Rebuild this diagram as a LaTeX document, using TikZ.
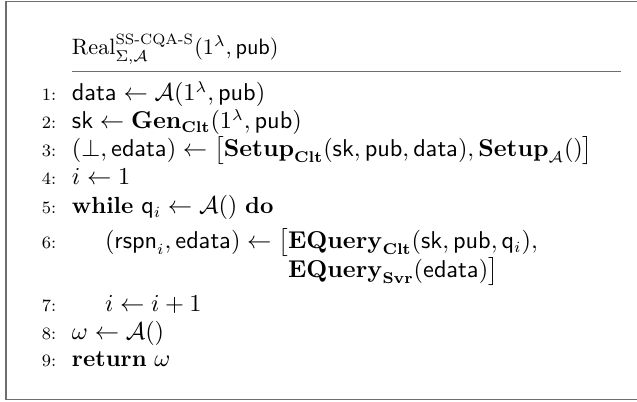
\documentclass[tikz,border=0pt]{standalone}
\usepackage{amsmath,amssymb}
\definecolor{framegray}{HTML}{6E6E6E}
\tikzset{
  algline/.style={anchor=base west, inner sep=0pt, outer sep=0pt, text height=7pt, text depth=2pt, font=\fontsize{10.5}{12.6}\selectfont},
  titleline/.style={anchor=base west, inner sep=0pt, outer sep=0pt, font=\fontsize{9.6}{11.5}\selectfont},
  lnum/.style={anchor=base west, inner sep=0pt, outer sep=0pt, font=\fontsize{7.8}{9}\selectfont},
}
\newcommand{\sfw}[1]{\mathsf{#1}}
\newcommand{\bfw}[1]{\mathbf{#1}}
\begin{document}
\begin{tikzpicture}[x=0.45pt,y=-0.45pt]
\useasboundingbox (0,0) rectangle (637,402);
% frame (open on the right)
\draw[framegray, line width=0.7pt] (637,1.5) -- (6,1.5) -- (6,399.5) -- (637,399.5);
% title
\node[titleline] (title) at (72,55) {$\mathrm{Real}^{\text{SS-CQA-S}}_{\Sigma,\mathcal{A}}(1^{\lambda},\sfw{pub})$};
\coordinate (rl) at (72,72);
\coordinate (rr) at (621,72);
\draw[framegray, line width=0.45pt] (rl) -- (rr);
% line numbers
\node[lnum] (n1) at (42,101) {1:};
\node[lnum] (n2) at (42,129) {2:};
\node[lnum] (n3) at (42,157) {3:};
\node[lnum] (n4) at (42,185) {4:};
\node[lnum] (n5) at (42,214) {5:};
\node[lnum] (n6) at (42,249) {6:};
\node[lnum] (n7) at (42,312) {7:};
\node[lnum] (n8) at (42,340) {8:};
\node[lnum] (n9) at (42,367) {9:};
% lines
\node[algline] (l1) at (72,101) {$\sfw{data} \gets \mathcal{A}(1^{\lambda},\sfw{pub})$};
\node[algline] (l2) at (72,129) {$\sfw{sk} \gets \bfw{Gen}_{\bfw{Clt}}(1^{\lambda},\sfw{pub})$};
\node[algline] (l3) at (72,157) {$(\bot,\sfw{edata}) \gets \big[\bfw{Setup}_{\bfw{Clt}}(\sfw{sk},\sfw{pub},\sfw{data}),\bfw{Setup}_{\mathcal{A}}()\big]$};
\node[algline] (l4) at (72,185) {$i \gets 1$};
\node[algline] (l5) at (72,214) {\textbf{while} $\sfw{q}_i \gets \mathcal{A}()$ \textbf{do}};
\node[algline] (l6a) at (105,249) {$(\sfw{rspn}_i,\sfw{edata}) \gets \big[$};
\node[algline] (l6b) at (l6a.base east) {$\bfw{EQuery}_{\bfw{Clt}}(\sfw{sk},\sfw{pub},\sfw{q}_i),$};
\node[algline] (l6c) at (l6b.base west |- 0,278) {$\bfw{EQuery}_{\bfw{Svr}}(\sfw{edata})\big]$};
\node[algline] (l7) at (105,312) {$i \gets i+1$};
\node[algline] (l8) at (72,340) {$\omega \gets \mathcal{A}()$};
\node[algline] (l9) at (72,367) {\textbf{return} $\omega$};
\end{tikzpicture}
\end{document}
